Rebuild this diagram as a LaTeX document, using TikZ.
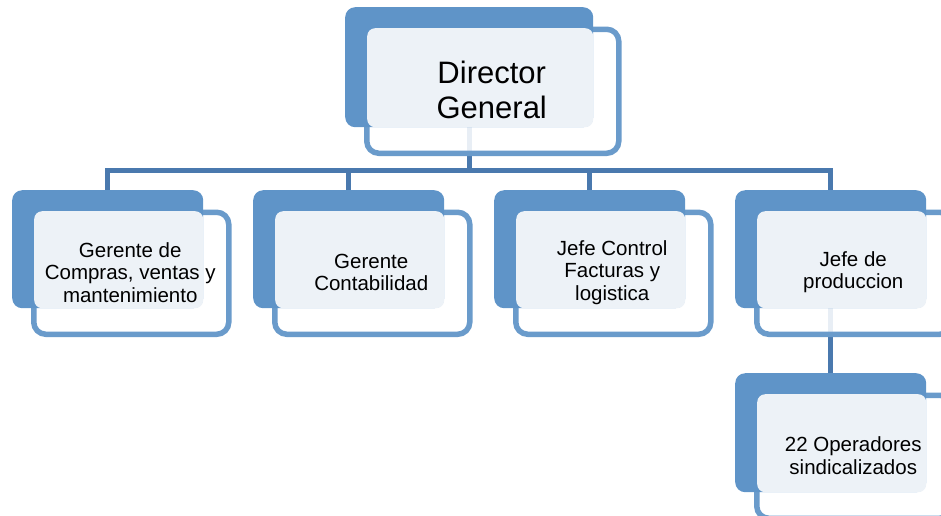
\documentclass[tikz,border=0pt]{standalone}
\usepackage{fontspec}
\setmainfont{Liberation Sans}
\usetikzlibrary{backgrounds}
\definecolor{backblue}{HTML}{5F94C8}
\definecolor{frameblue}{HTML}{6A9BCB}
\definecolor{connblue}{HTML}{4A79AE}
\definecolor{litefill}{HTML}{EDF2F7}
\tikzset{
 backbox/.style={draw=none, fill=backblue, rounded corners=10pt, inner sep=0pt, anchor=north west},
 framebox/.style={draw=frameblue, line width=5.5pt, fill=white, fill opacity=0.88, draw opacity=1, rounded corners=12pt, inner sep=0pt, anchor=north west},
 litebox/.style={draw=none, fill=litefill, rounded corners=8pt, inner sep=0pt, anchor=north west},
 boxtext/.style={align=center, font=\fontsize{20.5}{22.5}\selectfont, text=black, inner sep=0pt},
 bigtext/.style={align=center, font=\fontsize{31}{35}\selectfont, text=black, inner sep=0pt},
 conn/.style={draw=connblue, line width=5pt}
}
\newcommand\orgunit[7]{%
 \node[framebox, minimum width={#4+4}, minimum height={#5+4}] (#1-frame) at (#2+19,#3+19.5) {};
 \node[backbox, minimum width={#4}, minimum height={#5}] (#1-back) at (#2,#3) {};
 \node[litebox, minimum width={#4-22}, minimum height={#5-21}] (#1-lite) at (#2+22,#3+21) {};
 \node[#7] (#1-text) at ([xshift=-1pt,yshift=1pt]#1-frame.center) {#6};
}
\begin{document}
\begin{tikzpicture}[x=1pt,y=-1pt]
\useasboundingbox (0,0) rectangle (941,515);
\clip (0,0) rectangle (941,515);
\orgunit{dg}{345}{7}{248}{120}{Director\\General}{bigtext}
\orgunit{c1}{12}{190}{191}{118}{Gerente de\\Compras, ventas y\\mantenimiento}{boxtext}
\orgunit{c2}{253}{190}{191}{118}{Gerente\\Contabilidad}{boxtext}
\orgunit{c3}{494}{190}{191}{118}{Jefe Control\\Facturas y\\logistica}{boxtext}
\orgunit{c4}{735}{190}{191}{118}{Jefe de\\produccion}{boxtext}
\orgunit{c5}{735}{373}{191}{119}{22 Operadores\\sindicalizados}{boxtext}
\begin{pgfonlayer}{background}
 \path (dg-back.south) ++(0,43) coordinate (bus);
 \draw[conn] (dg-back.south) -- (bus);
 \draw[conn] (bus) -| (c1-back.north);
 \draw[conn] (bus) -| (c2-back.north);
 \draw[conn] (bus) -| (c3-back.north);
 \draw[conn] (bus) -| (c4-back.north);
 \draw[conn] (c4-back.south) -- (c5-back.north);
\end{pgfonlayer}
\end{tikzpicture}
\end{document}
